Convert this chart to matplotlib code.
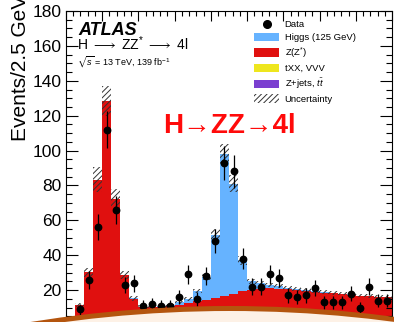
import numpy as np
import matplotlib.pyplot as plt
from matplotlib.patches import Patch, Circle
from matplotlib.lines import Line2D
from matplotlib.ticker import MultipleLocator

plt.rcParams['font.family'] = ['Liberation Sans', 'DejaVu Sans']
plt.rcParams['mathtext.fontset'] = 'custom'
plt.rcParams['mathtext.rm'] = 'Liberation Sans'
plt.rcParams['mathtext.it'] = 'Liberation Sans:italic'
plt.rcParams['mathtext.bf'] = 'Liberation Sans:bold'
plt.rcParams['mathtext.fallback'] = 'stixsans'
plt.rcParams['hatch.linewidth'] = 0.7

# m4l bins, 80-170 GeV in 2.5 GeV steps
edges = np.arange(80, 172.5, 2.5)

# stacked expectations per bin (events / 2.5 GeV)
zjets_tt = [0.3, 0.8, 1.0, 1.2, 1.3, 1.2, 1.0, 0.9, 0.8, 0.8, 0.8, 0.8,
            0.8, 0.8, 0.8, 0.8, 0.8, 0.8, 0.8, 0.8, 0.8, 0.8, 0.8, 0.7,
            0.7, 0.7, 0.7, 0.6, 0.6, 0.6, 0.6, 0.6, 0.5, 0.5, 0.5, 0.5]
txx_vvv = [0.1, 0.2, 0.3, 0.3, 0.3, 0.3, 0.3, 0.3, 0.3, 0.3, 0.3, 0.3,
           0.3, 0.3, 0.3, 0.3, 0.3, 0.3, 0.3, 0.3, 0.3, 0.3, 0.3, 0.3,
           0.3, 0.3, 0.3, 0.3, 0.3, 0.3, 0.3, 0.3, 0.3, 0.3, 0.3, 0.3]
zz = [1.4, 10.4, 28.9, 81.9, 126.9, 70.9, 27.4, 13.9, 9.4, 9.4, 9.4, 9.9,
      10.4, 11.4, 12.4, 13.2, 14.2, 15.4, 16.9, 18.2, 19.2, 19.7, 19.9, 19.9,
      19.4, 19.0, 18.6, 18.1, 17.7, 17.3, 16.9, 16.4, 15.9, 15.6, 15.3, 15.0]
higgs = [0.0, 0.0, 0.0, 0.0, 0.0, 0.0, 0.0, 0.1, 0.1, 0.1, 0.2, 0.4,
         1.5, 2.5, 6.0, 13.2, 36.2, 81.5, 63.0, 17.7, 4.7, 3.2, 2.0, 1.5,
         0.8, 0.5, 0.3, 0.3, 0.2, 0.2, 0.2, 0.2, 0.2, 0.2, 0.2, 0.2]
unc = [0.3, 1.2, 2.5, 7.0, 8.5, 5.5, 2.5, 1.3, 0.9, 0.9, 0.9, 0.9,
       1.0, 1.2, 1.4, 1.8, 3.5, 5.5, 5.0, 2.8, 1.6, 1.3, 1.2, 1.2,
       1.2, 1.1, 1.1, 1.1, 1.1, 1.0, 1.0, 1.0, 1.0, 1.0, 1.0, 1.0]
data = [2, 9, 26, 56, 112, 66, 23, 24, 11, 12, 11, 11,
        16, 29, 15, 28, 48, 93, 88, 38, 22, 22, 29, 27,
        17, 16, 17, 21, 13, 13, 13, 18, 10, 22, 14, 14]

c_higgs = '#66b3ff'
c_zz = '#e0100f'
c_txx = '#eee61e'
c_zjets = '#7b3fd0'

fig = plt.figure(figsize=(3.94, 3.22), dpi=100)
ax = fig.add_axes([66 / 394, -3 / 322, 326 / 394, 314 / 322])

bottom = np.zeros(len(zz))
for vals, col in [(zjets_tt, c_zjets), (txx_vvv, c_txx), (zz, c_zz), (higgs, c_higgs)]:
    vals = np.array(vals)
    ax.stairs(bottom + vals, edges, baseline=bottom.copy(), fill=True, color=col, lw=0)
    bottom = bottom + vals
total = bottom
unc = np.array(unc)
ax.stairs(total + unc, edges, baseline=total - unc, fill=True, facecolor='none',
          edgecolor='#333333', lw=0, hatch='//////')

centers = 0.5 * (edges[1:] + edges[:-1])
data = np.array(data)
ax.errorbar(centers, data, yerr=np.sqrt(data), fmt='o', color='k', ms=4.6,
            elinewidth=0.9, capsize=0, zorder=5)

ax.set_xlim(80, 170)
ax.set_ylim(0, 180)
ax.xaxis.set_major_locator(MultipleLocator(10))
ax.xaxis.set_minor_locator(MultipleLocator(2))
ax.yaxis.set_major_locator(MultipleLocator(20))
ax.yaxis.set_minor_locator(MultipleLocator(5))
ax.tick_params(which='both', direction='in', top=True, right=True, labelsize=12.5, pad=3,
               width=0.8, labelbottom=False)
ax.tick_params(axis='y', which='major', length=8.5)
ax.tick_params(axis='y', which='minor', length=4.3)
ax.tick_params(axis='x', which='major', length=7.2)
ax.tick_params(axis='x', which='minor', length=3.6)
for s in ax.spines.values():
    s.set_linewidth(0.8)

ax.set_ylabel('Events/2.5 GeV', fontsize=15)
ax.yaxis.set_label_coords(-0.11, 0.818)

ax.text(0.037, 0.924, 'ATLAS', transform=ax.transAxes, fontsize=13,
        fontweight='bold', fontstyle='italic', va='baseline')
ax.text(0.034, 0.877, r'H $\longrightarrow$ ZZ$^{*}$ $\longrightarrow$ 4l', transform=ax.transAxes,
        fontsize=10, va='baseline')
ax.text(0.034, 0.826, r'$\sqrt{s}$ = 13 TeV, 139 fb$^{-1}$', transform=ax.transAxes,
        fontsize=6.5, va='baseline')
ax.text(0.297, 0.611, 'H→ZZ→4l', transform=ax.transAxes, fontsize=20,
        fontweight='bold', color='#ff0a0a', va='baseline')

handles = [
    Line2D([], [], marker='o', color='k', ls='none', ms=5.5),
    Patch(facecolor=c_higgs, lw=0),
    Patch(facecolor=c_zz, lw=0),
    Patch(facecolor=c_txx, lw=0),
    Patch(facecolor=c_zjets, lw=0),
    Patch(facecolor='white', edgecolor='#333333', hatch='//////', lw=0),
]
labels = ['Data', 'Higgs (125 GeV)', 'Z(Z$^{*}$)', 'tXX, VVV', r'Z+jets, $t\bar{t}$', 'Uncertainty']
ax.legend(handles, labels, loc='upper left', bbox_to_anchor=(0.578, 0.972), frameon=False,
          fontsize=6.8, handlelength=2.6, handleheight=1.05, labelspacing=0.33,
          handletextpad=0.6, borderpad=0, borderaxespad=0)

# decorative arc over the bottom of the slide
over = fig.add_axes([0, 0, 1, 1], zorder=10)
over.set_xlim(0, 394)
over.set_ylim(322, 0)
over.axis('off')
over.patch.set_alpha(0)
over.add_patch(Circle((230, 1556), 1250, color='#b4550e', lw=0))
over.add_patch(Circle((230, 1556), 1245, color='#fdf1e6', lw=0))

fig.savefig('out.png', dpi=100)
